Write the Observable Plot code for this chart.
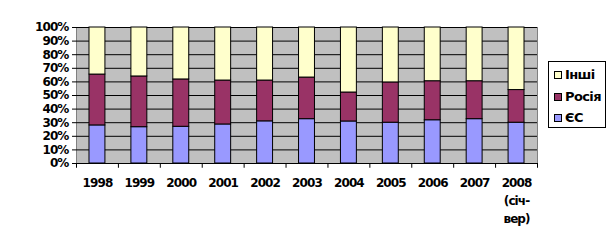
<!DOCTYPE html>
<html>
<head>
<meta charset="utf-8">
<script src="https://cdn.jsdelivr.net/npm/d3@7"></script>
<script src="https://cdn.jsdelivr.net/npm/@observablehq/plot@0.6"></script>
<style>
  html, body { margin: 0; padding: 0; background: #fff; }
  #wrap { position: relative; width: 616px; height: 247px; font-family: "DejaVu Sans", sans-serif; }
  #legend { position: absolute; left: 548px; top: 61px; width: 56px; height: 65px; border: 1px solid #000; background: #fff; box-sizing: content-box; }
  .item { position: absolute; left: 5px; font-size: 13px; font-weight: bold; letter-spacing: -0.6px; line-height: 14px; display: flex; align-items: center; }
  .sw { width: 6px; height: 6px; border: 1px solid #000; margin-right: 3px; }
</style>
</head>
<body>
<div id="wrap"></div>
<script>
const years = ["1998","1999","2000","2001","2002","2003","2004","2005","2006","2007","2008"];
const yearLabels = ["1998","1999","2000","2001","2002","2003","2004","2005","2006","2007","2008\n(січ-\nвер)"];
const seriesNames = ["ЄС","Росія","Інші"];
const seriesColors = ["#9999FF","#993366","#FFFFCC"];
const eu     = [28.0, 26.7, 27.0, 28.7, 31.0, 32.6, 30.9, 30.0, 31.8, 32.6, 30.0];
const russia = [37.4, 37.3, 34.8, 32.3, 30.0, 30.6, 21.3, 29.6, 28.7, 27.9, 24.0];
const yTicks = [0,0.1,0.2,0.3,0.4,0.5,0.6,0.7,0.8,0.9,1];

const rows = [];
years.forEach((y, i) => {
  const others = 100 - eu[i] - russia[i];
  rows.push({year: y, series: "ЄС", value: eu[i] / 100});
  rows.push({year: y, series: "Росія", value: russia[i] / 100});
  rows.push({year: y, series: "Інші", value: others / 100});
});

const W = 616, H = 247, mL = 76, mR = 79;
const step = (W - mL - mR) / years.length;
const labelOf = Object.fromEntries(years.map((y, i) => [y, yearLabels[i]]));

const chart = Plot.plot({
  width: W, height: H,
  marginLeft: mL, marginRight: mR, marginTop: 27, marginBottom: 84,
  style: {fontFamily: '"DejaVu Sans", sans-serif', fontSize: "12px", fontWeight: "bold", letterSpacing: "-0.9px", color: "#000", background: "transparent"},
  x: {domain: years, paddingInner: 0.62, paddingOuter: 0.31, align: 0.5, round: false, axis: null},
  y: {domain: [0, 1], axis: null},
  color: {domain: seriesNames, range: seriesColors},
  marks: [
    Plot.frame({fill: "#C0C0C0", stroke: "#808080"}),
    Plot.ruleY(yTicks, {stroke: "#000", strokeWidth: 1}),
    Plot.barY(rows, {x: "year", y: "value", fill: "series", stroke: "#000", strokeWidth: 1, order: seriesNames}),
    Plot.ruleX([0], {frameAnchor: "left", stroke: "#000"}),
    Plot.ruleY([0], {stroke: "#000"}),
    Plot.axisY({ticks: yTicks, label: null, tickFormat: d => Math.round(d * 100) + "%", tickSize: 4, tickPadding: 4, stroke: "#000", fill: "#000", fontSize: 12, fontWeight: "bold"}),
    Plot.ruleX(years, {x: d => d, dx: -step / 2, y1: 0, y2: -0.035, stroke: "#000"}),
    Plot.ruleX([years[years.length - 1]], {x: d => d, dx: step / 2, y1: 0, y2: -0.035, stroke: "#000"}),
    Plot.text(years, {x: d => d, y: 0, text: d => labelOf[d], dy: 11, lineAnchor: "top", lineHeight: 1.5, fontSize: 12, fontWeight: "bold", fill: "#000"})
  ]
});

const wrap = document.getElementById("wrap");
wrap.appendChild(chart);
chart.style.position = "absolute";
chart.style.left = "0";
chart.style.top = "0";

const legend = document.createElement("div");
legend.id = "legend";
const order = ["Інші", "Росія", "ЄС"];
const tops = [6, 28, 49];
order.forEach((name, i) => {
  const it = document.createElement("div");
  it.className = "item";
  it.style.top = tops[i] + "px";
  const sw = document.createElement("span");
  sw.className = "sw";
  sw.style.background = seriesColors[seriesNames.indexOf(name)];
  const tx = document.createElement("span");
  tx.textContent = name;
  it.appendChild(sw);
  it.appendChild(tx);
  legend.appendChild(it);
});
wrap.appendChild(legend);
</script>
</body>
</html>
